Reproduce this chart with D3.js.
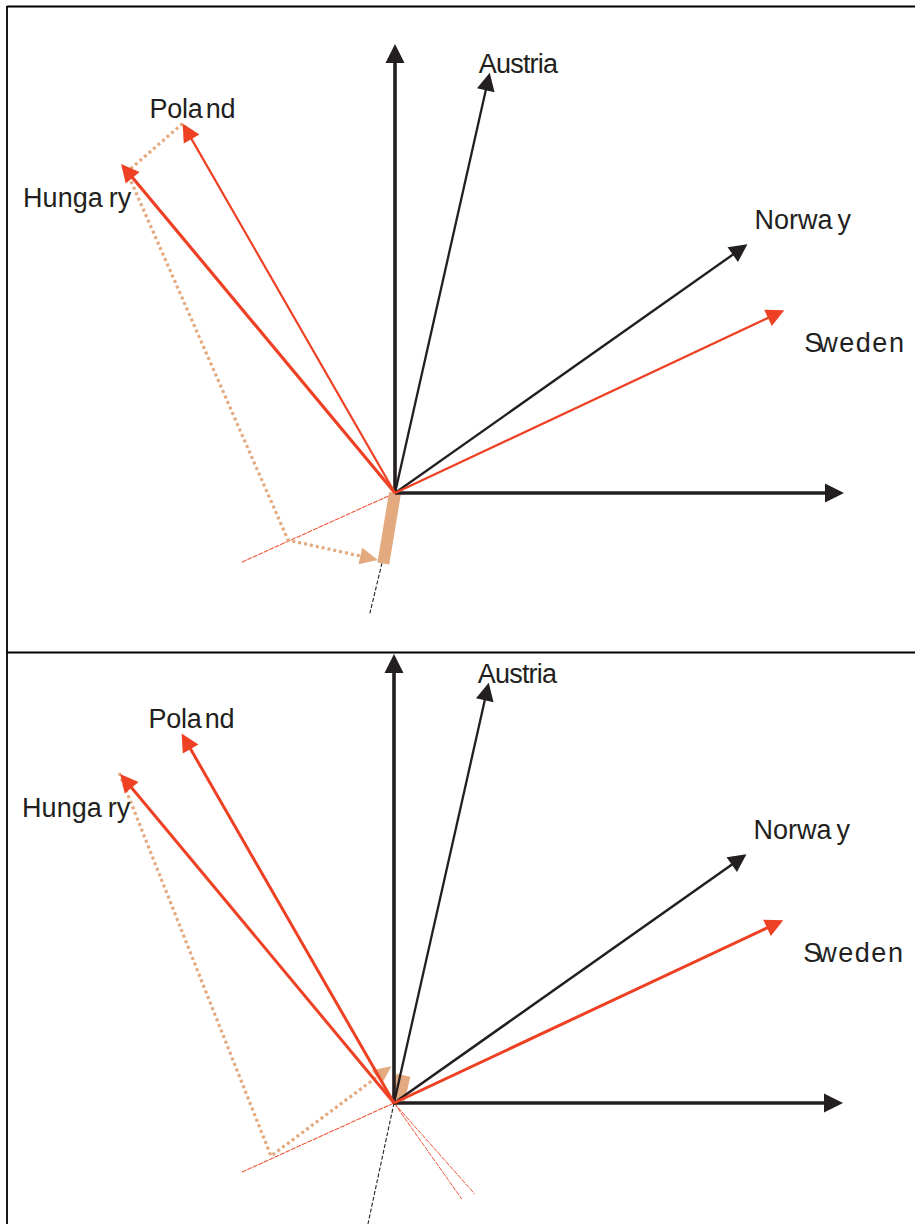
<!DOCTYPE html>
<html>
<head>
<meta charset="utf-8">
<script src="https://cdn.jsdelivr.net/npm/d3@7"></script>
<style>
  html, body { margin: 0; padding: 0; background: #fff; }
  svg { display: block; }
  text { font-family: "Liberation Sans", Arial, sans-serif; fill: #231f20; }
</style>
</head>
<body>
<svg id="chart" width="915" height="1224"></svg>
<script>
// Country loading vectors (unit circle coordinates, shared by both panels)
const countries = ["Austria", "Norway", "Sweden", "Poland", "Hungary"];
const loadX = [0.211, 0.785, 0.867, -0.473, -0.610];
const loadY = [0.936, 0.554, 0.407, 0.823, 0.733];
const bloc  = ["west", "west", "north", "east", "east"];

// Construction path of the combined vector (upper panel)
const upperPathX = [-0.473, -0.597, -0.238, -0.038];
const upperPathY = [0.823, 0.715, -0.105, -0.149];
const upperSum = [-0.026, -0.157];
const upperResidualRed = [[-0.341, -0.154], [0, 0]];
const upperResidualDark = [[-0.029, -0.156], [-0.056, -0.268]];

// Construction path of the combined vector (lower panel)
const lowerPathX = [-0.612, -0.274, -0.006];
const lowerPathY = [0.735, -0.118, 0.082];
const lowerSum = [[0.009, 0.008], [0.021, 0.062]];
const lowerResidualRed = [[-0.339, -0.154], [0, 0]];
const lowerResidualRed2 = [[0, 0], [0.151, -0.214]];
const lowerResidualRed3 = [[0, 0], [0.180, -0.203]];
const lowerResidualDark = [[0, 0], [-0.058, -0.269]];

const DARK = "#231f20", RED = "#ee4124", TAN = "#e3a97f";
const colorOf = { west: DARK, north: RED, east: RED };

// label offsets (px) from arrow tips and per-letter spacing tweaks
const labelOffset = {
  Austria: [-11, 0], Norway: [7, -15], Sweden: [20, 42],
  Poland: [-33, -5], Hungary: [-98, 43]
};
const labelDx = {
  Austria: "0 -0.8 -0.8 -0.8 -0.8 -0.8 -0.8",
  Norway: "0 0 0 0 0 5",
  Sweden: "0 -4 1.5 1.5 1.5 1.5",
  Poland: "0 -0.3 -0.3 -0.3 3 -0.3",
  Hungary: "0 0 0 0 0 6"
};

const svg = d3.select("#chart");

// panel frames
const frame = svg.append("g").attr("stroke", "#000").attr("stroke-width", 1.8).attr("fill", "none");
frame.append("line").attr("x1", 7).attr("y1", 6.5).attr("x2", 915).attr("y2", 6.5);
frame.append("line").attr("x1", 7).attr("y1", 6).attr("x2", 7).attr("y2", 1224);
frame.append("line").attr("x1", 7).attr("y1", 652.5).attr("x2", 915).attr("y2", 652.5);

function arrow(g, x0, y0, x1, y1, color, width, headLen, headW) {
  const dx = x1 - x0, dy = y1 - y0, L = Math.hypot(dx, dy);
  const ux = dx / L, uy = dy / L;
  const bx = x1 - ux * headLen, by = y1 - uy * headLen;
  g.append("line")
    .attr("x1", x0).attr("y1", y0)
    .attr("x2", bx + ux * 2).attr("y2", by + uy * 2)
    .attr("stroke", color).attr("stroke-width", width);
  g.append("path")
    .attr("d", `M${x1},${y1}L${bx - uy * headW / 2},${by + ux * headW / 2}L${bx + uy * headW / 2},${by - ux * headW / 2}Z`)
    .attr("fill", color);
}

function panel(origin) {
  const R = 449;
  const x = d3.scaleLinear().domain([-1, 1]).range([origin[0] - R, origin[0] + R]);
  const y = d3.scaleLinear().domain([-1, 1]).range([origin[1] + R, origin[1] - R]);
  const g = svg.append("g");
  return { x, y, g };
}

function drawAxesAndVectors(p, widths) {
  const { x, y, g } = p;
  arrow(g, x(0), y(0), x(0), y(1), DARK, 3.6, 19, 19);
  arrow(g, x(0), y(0), x(1), y(0), DARK, 3.6, 19, 19);
  countries.forEach((c, i) => {
    arrow(g, x(0), y(0), x(loadX[i]), y(loadY[i]), colorOf[bloc[i]], widths[i], 18, 18);
    const [ox, oy] = labelOffset[c];
    g.append("text")
      .attr("x", x(loadX[i]) + ox).attr("y", y(loadY[i]) + oy)
      .attr("dx", labelDx[c])
      .attr("font-size", 27)
      .text(c);
  });
}

function thinLine(g, x, y, pts, color, width, dash) {
  g.append("path")
    .attr("d", d3.line().x(d => x(d[0])).y(d => y(d[1]))(pts))
    .attr("fill", "none").attr("stroke", color)
    .attr("stroke-width", width).attr("stroke-dasharray", dash);
}

function dottedArrow(g, x, y, xs, ys) {
  const pts = xs.map((v, i) => [x(v), y(ys[i])]);
  const n = pts.length;
  const [x1, y1] = pts[n - 1], [x0, y0] = pts[n - 2];
  const L = Math.hypot(x1 - x0, y1 - y0), ux = (x1 - x0) / L, uy = (y1 - y0) / L;
  const head = 18, hw = 17;
  const bx = x1 - ux * head, by = y1 - uy * head;
  const linePts = pts.slice(0, n - 1).concat([[bx, by]]);
  g.append("path")
    .attr("d", d3.line()(linePts))
    .attr("fill", "none").attr("stroke", TAN)
    .attr("stroke-width", 3.2).attr("stroke-dasharray", "3,3");
  g.append("path")
    .attr("d", `M${x1},${y1}L${bx - uy * hw / 2},${by + ux * hw / 2}L${bx + uy * hw / 2},${by - ux * hw / 2}Z`)
    .attr("fill", TAN);
}

function bar(g, x, y, a, b, w) {
  g.append("line")
    .attr("x1", x(a[0])).attr("y1", y(a[1]))
    .attr("x2", x(b[0])).attr("y2", y(b[1]))
    .attr("stroke", TAN).attr("stroke-width", w);
}

// ---- upper panel ----
const up = panel([395, 493]);
thinLine(up.g, up.x, up.y, upperResidualRed, "#f0583a", 1.1, "5,1");
thinLine(up.g, up.x, up.y, upperResidualDark, DARK, 1.1, "4,2");
dottedArrow(up.g, up.x, up.y, upperPathX, upperPathY);
bar(up.g, up.x, up.y, [0, 0], upperSum, 12);
drawAxesAndVectors(up, [2.3, 2.3, 2.2, 2.2, 3.2]);

// ---- lower panel ----
const lo = panel([394, 1103]);
thinLine(lo.g, lo.x, lo.y, lowerResidualRed, "#f0583a", 1.1, "5,1");
thinLine(lo.g, lo.x, lo.y, lowerResidualRed2, "#f0583a", 1.0, "5,1");
thinLine(lo.g, lo.x, lo.y, lowerResidualRed3, "#f0583a", 1.0, "5,1");
thinLine(lo.g, lo.x, lo.y, lowerResidualDark, DARK, 1.1, "4,2");
dottedArrow(lo.g, lo.x, lo.y, lowerPathX, lowerPathY);
bar(lo.g, lo.x, lo.y, lowerSum[0], lowerSum[1], 14);
drawAxesAndVectors(lo, [2.3, 2.5, 3, 3, 3]);
</script>
</body>
</html>
